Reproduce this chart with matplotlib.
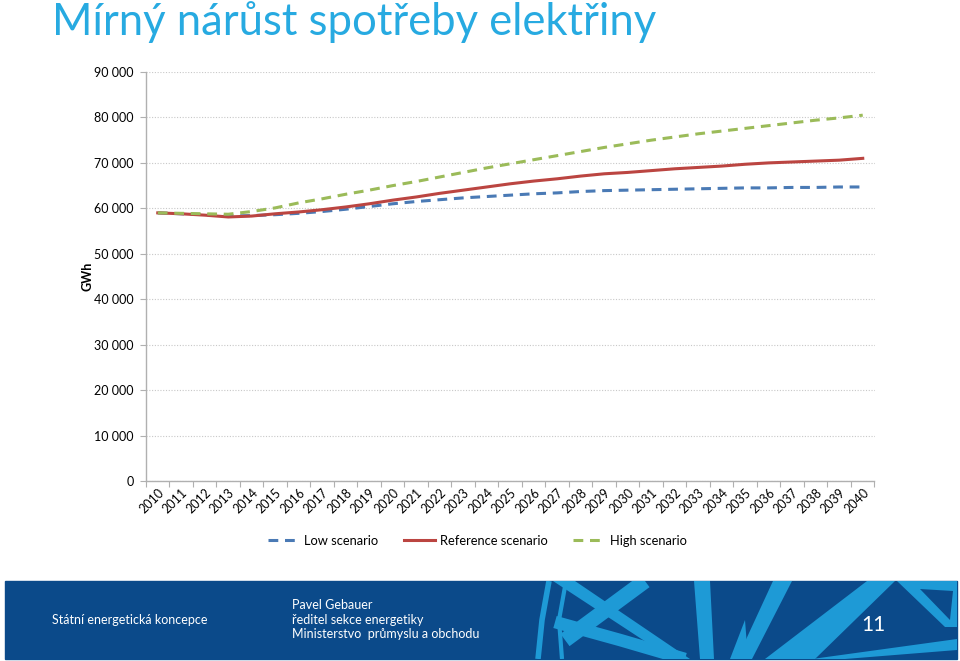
import matplotlib
matplotlib.use("Agg")
import matplotlib.pyplot as plt
import numpy as np
from matplotlib.ticker import FuncFormatter

plt.rcParams['font.family'] = ['Lato', 'DejaVu Sans']

years = list(range(2010, 2041))
low = [59.0, 58.8, 58.6, 58.3, 58.4, 58.6, 58.9, 59.3, 59.8, 60.4, 61.0, 61.5, 61.9, 62.3,
       62.6, 62.9, 63.2, 63.4, 63.7, 63.9, 64.0, 64.1, 64.2, 64.3, 64.4, 64.5, 64.5, 64.6,
       64.6, 64.7, 64.7]
reference = [59.0, 58.8, 58.5, 58.1, 58.3, 58.8, 59.2, 59.7, 60.3, 61.0, 61.8, 62.5, 63.3,
             64.0, 64.7, 65.4, 66.0, 66.5, 67.1, 67.6, 67.9, 68.3, 68.7, 69.0, 69.3, 69.7,
             70.0, 70.2, 70.4, 70.6, 71.0]
high = [59.0, 58.9, 58.8, 58.7, 59.3, 60.1, 61.2, 62.1, 63.1, 64.0, 65.0, 65.9, 66.9, 67.9,
        68.9, 69.8, 70.7, 71.6, 72.5, 73.4, 74.2, 75.0, 75.7, 76.4, 77.0, 77.6, 78.2, 78.8,
        79.4, 79.9, 80.5]
low = [v * 1000 for v in low]
reference = [v * 1000 for v in reference]
high = [v * 1000 for v in high]
y_ticks = list(range(0, 90001, 10000))
series_names = ["Low scenario", "Reference scenario", "High scenario"]

W, H = 960, 661
fig = plt.figure(figsize=(W / 100, H / 100), dpi=100)
fig.patch.set_facecolor("white")

# Title
fig.text(52 / W, 1 - 22 / H, "Mírný nárůst spotřeby elektřiny", color="#27aae1",
         fontsize=31.4, ha="left", va="center")

ax = fig.add_axes([146 / W, 1 - 481 / H, (874.5 - 146) / W, (481 - 72) / H])
ax.plot(years, low, color="#4a7ab5", lw=2.2, ls=(0, (3.2, 2.2)), label=series_names[0])
ax.plot(years, reference, color="#bb4541", lw=2.2, label=series_names[1])
ax.plot(years, high, color="#9bbb59", lw=2.2, ls=(0, (3.2, 2.2)), label=series_names[2])

ax.set_xlim(2009.5, 2040.5)
ax.set_ylim(0, 90000)
ax.set_yticks(y_ticks)
ax.yaxis.set_major_formatter(FuncFormatter(lambda v, p: f"{int(v):,}".replace(",", " ")))
ax.grid(axis="y", color="#c8c8c8", ls=(0, (1, 1.5)), lw=0.8)
ax.grid(axis="x", visible=False, which="both")
ax.set_axisbelow(True)
ax.spines["top"].set_visible(False)
ax.spines["right"].set_visible(False)
for s in ["left", "bottom"]:
    ax.spines[s].set_color("#b0b0b0")
    ax.spines[s].set_linewidth(1.0)
ax.tick_params(axis="y", length=4, color="#b0b0b0", labelsize=9, pad=5, right=False)
ax.set_xticks([y + 0.5 for y in [2009] + years], minor=False)
ax.set_xticklabels([])
ax.set_xticks(years, minor=True)
ax.set_xticklabels([str(y) for y in years], minor=True, rotation=45, ha="right",
                   rotation_mode="anchor", fontsize=9)
ax.tick_params(axis="x", which="major", length=4, color="#b0b0b0", top=False)
ax.tick_params(axis="x", which="minor", length=0, pad=4, top=False)
ax.set_ylabel("GWh", fontsize=9, fontweight="bold", labelpad=0)

leg = fig.legend(loc="center", bbox_to_anchor=(477 / W, 1 - 541 / H), ncol=3, frameon=False,
                 fontsize=9.3, handlelength=2.4, columnspacing=2.0, handletextpad=0.4)

# Footer band
fax = fig.add_axes([0, 0, 1, 1], zorder=-1)
fax.set_xlim(0, W)
fax.set_ylim(H, 0)
fax.axis("off")
dark = "#0b4a8a"
light = "#1e9ad6"
fax.add_patch(plt.Rectangle((5, 581), 952, 78, color=dark))
clip = plt.Rectangle((5, 581), 952, 78, transform=fax.transData)

polys = [
    ([553, 575, 690, 672], [581, 581, 659, 659], light),
    ([694, 710, 714, 700], [581, 581, 659, 659], light),
    ([745, 748, 730], [620, 659, 659], light),
    ([773, 792, 752, 737], [581, 581, 659, 659], light),
    ([867, 895, 815, 765], [581, 581, 659, 659], light),
    ([897, 957, 957, 945], [581, 581, 627, 627], light),
    ([920, 953, 950], [589, 591, 620], dark),
    ([812, 957, 957, 845], [659, 639, 650, 659], light),
]
for xs, ys, c in polys:
    p = plt.Polygon(list(zip(xs, ys)), closed=True, color=c, lw=0)
    fax.add_patch(p)
    p.set_clip_path(clip)
lines = [
    ([549, 542, 538], [581, 620, 659], 4),
    ([566, 559, 562], [581, 620, 659], 3),
    ([645, 565], [581, 640], 11),
    ([555, 620, 685], [622, 640, 659], 9),
]
for xs, ys, lw in lines:
    ln, = fax.plot(xs, ys, color=light, lw=lw, solid_capstyle="butt")
    ln.set_clip_path(clip)

fax.text(52, 620, "Státní energetická koncepce", color="white", fontsize=9, va="center")
fax.text(292, 605, "Pavel Gebauer", color="white", fontsize=9, va="center")
fax.text(292, 620, "ředitel sekce energetiky", color="white", fontsize=9, va="center")
fax.text(292, 634, "Ministerstvo  průmyslu a obchodu", color="white", fontsize=9, va="center")
fax.text(873, 625, "11", color="white", fontsize=15, va="center", ha="center")

fig.savefig("out.png", dpi=100)
